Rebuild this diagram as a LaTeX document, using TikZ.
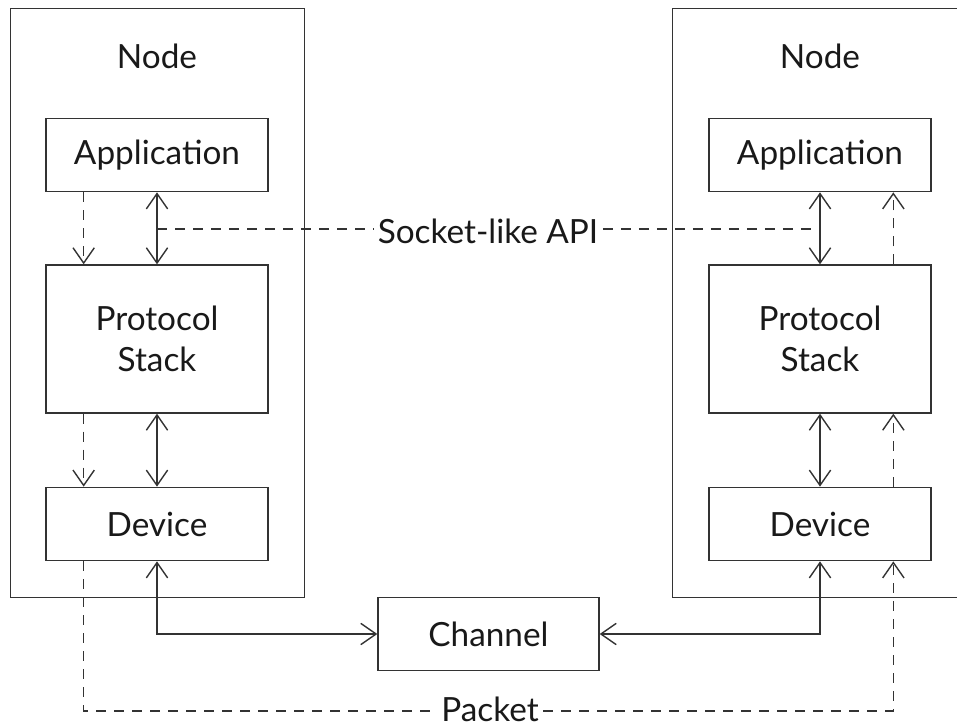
\documentclass[tikz,border=0pt]{standalone}
\usepackage{fontspec}
\setmainfont{Lato}
\usetikzlibrary{arrows.meta}
\definecolor{ink}{gray}{0.2}
\begin{document}
\begin{tikzpicture}[x=0.75pt,y=-0.75pt,
  line width=1.05pt, draw=ink,
  every node/.style={font=\fontsize{25pt}{31pt}\selectfont, text=black!90},
  frame/.style={draw=ink, anchor=north west, inner sep=0pt},
  layer/.style={draw=ink, inner sep=0pt, minimum width=166.5pt, minimum height=55pt, align=center},
  barb/.tip={Straight Barb[length=11.5pt,width=16pt,line width=1.05pt]},
  dashline/.style={dash pattern=on 7.5pt off 6pt},
  lbl/.style={fill=white, inner sep=3pt}
]
\useasboundingbox (0,0) rectangle (957,727);
\clip (0,0) rectangle (957,727);

% host frames
\node[frame, minimum width=220.5pt, minimum height=441.75pt] (hostL) at (10,8) {};
\node[frame, minimum width=240pt, minimum height=441.75pt] (hostR) at (672,8) {};
\node (nameL) at (157,56) {Node};
\node (nameR) at (820,56) {Node};

% layers of the left host
\node[layer] (appL) at (157,155) {Application};
\node[layer, minimum height=111pt] (stackL) at (157,339) {Protocol\\Stack};
\node[layer] (devL) at (157,524) {Device};

% layers of the right host
\node[layer] (appR) at (820,155) {Application};
\node[layer, minimum height=111pt] (stackR) at (820,339) {Protocol\\Stack};
\node[layer] (devR) at (820,524) {Device};

% shared medium
\node[layer, minimum width=165.75pt] (chan) at (488.5,634) {Channel};

% interfaces between layers
\draw[{barb}-{barb}] (appL.south) -- (stackL.north);
\draw[{barb}-{barb}] (stackL.south) -- (devL.north);
\draw[{barb}-{barb}] (appR.south) -- (stackR.north);
\draw[{barb}-{barb}] (stackR.south) -- (devR.north);
\draw[{barb}-{barb}] (devL.south) |- (chan.west);
\draw[{barb}-{barb}] (devR.south) |- (chan.east);

% data flow
\draw[dashline, -{barb}] ([xshift=-55pt]appL.south) -- ([xshift=-55pt]stackL.north);
\draw[dashline, -{barb}] ([xshift=-55pt]stackL.south) -- ([xshift=-55pt]devL.north);
\draw[dashline, -{barb}] ([xshift=55pt]stackR.north) -- ([xshift=55pt]appR.south);
\draw[dashline, -{barb}] ([xshift=55pt]devR.north) -- ([xshift=55pt]stackR.south);

% socket-like API
\node[lbl] (api) at (488,231) {Socket-like API};
\draw[dashline] (appL.south |- 0,229) -- (api.west |- 0,229);
\draw[dashline] (api.east |- 0,229) -- ([xshift=-6pt]appR.south |- 0,229);

% packet path
\node[lbl] (pkt) at (490,709) {Packet};
\draw[dashline] ([xshift=-55pt]devL.south) |- (pkt.west |- 0,711);
\draw[dashline, -{barb}] (pkt.east |- 0,711) -| ([xshift=55pt]devR.south);
\end{tikzpicture}
\end{document}
